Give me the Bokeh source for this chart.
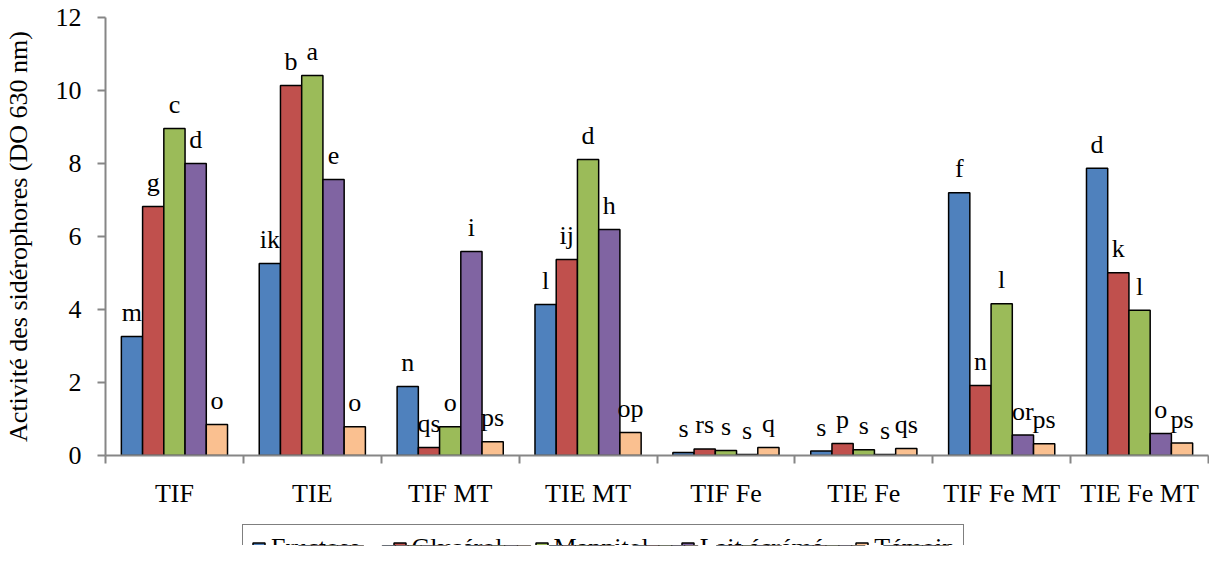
from bokeh.plotting import figure
from bokeh.layouts import column
from bokeh.models import ColumnDataSource, Range1d, FixedTicker, Legend, LegendItem
from bokeh.embed import file_html
from bokeh.resources import INLINE
from bokeh.core.properties import value

groups = ["TIF", "TIE", "TIF MT", "TIE MT", "TIF Fe", "TIE Fe", "TIF Fe MT", "TIE Fe MT"]
series = ["Fructose", "Glycérol", "Mannitol", "Lait écrémé", "Témoin"]
colors = ["#4F81BD", "#C0504D", "#9BBB59", "#8064A2", "#FAC090"]

fructose = [3.26, 5.26, 1.89, 4.14, 0.08, 0.12, 7.20, 7.87]
glycerol = [6.82, 10.14, 0.22, 5.37, 0.18, 0.33, 1.92, 5.01]
mannitol = [8.96, 10.41, 0.79, 8.11, 0.14, 0.16, 4.16, 3.98]
lait = [8.00, 7.56, 5.59, 6.19, 0.03, 0.03, 0.56, 0.60]
temoin = [0.85, 0.79, 0.38, 0.63, 0.22, 0.19, 0.32, 0.34]

let_fructose = ["m", "ik", "n", "l", "s", "s", "f", "d"]
let_glycerol = ["g", "b", "qs", "ij", "rs", "p", "n", "k"]
let_mannitol = ["c", "a", "o", "d", "s", "s", "l", "l"]
let_lait = ["d", "e", "i", "h", "s", "s", "or", "o"]
let_temoin = ["o", "o", "ps", "op", "q", "qs", "ps", "ps"]

y_ticks = [0, 2, 4, 6, 8, 10, 12]

values = [fructose, glycerol, mannitol, lait, temoin]
letters = [let_fructose, let_glycerol, let_mannitol, let_lait, let_temoin]

FONT = "'Liberation Serif', 'Times New Roman', serif"
AXIS_GRAY = "#868686"
bw = 0.154

p = figure(width=1209, height=512, output_backend="svg", toolbar_location=None,
           x_range=Range1d(0, len(groups)), y_range=Range1d(0, 12),
           min_border_left=105, min_border_right=1, min_border_top=17, min_border_bottom=57)
p.outline_line_color = None
p.xgrid.grid_line_color = None
p.ygrid.grid_line_color = None
p.background_fill_color = "white"
p.border_fill_color = "white"

sources = []
for j, (name, vals, lets, col) in enumerate(zip(series, values, letters, colors)):
    xs = [i + 0.5 + (j - 2) * bw for i in range(len(groups))]
    src = ColumnDataSource(dict(x=xs, top=vals, lab=lets))
    sources.append(src)
    p.vbar(x="x", top="top", width=bw, bottom=0, source=src,
           fill_color=col, line_color="black", line_width=1.5)
    p.text(x="x", y="top", text="lab", source=src, text_align="center",
           text_baseline="alphabetic", y_offset=-24,
           text_font=value(FONT), text_font_size="26px", text_color="black")

# x axis
xa = p.xaxis[0]
xa.ticker = FixedTicker(ticks=[i + 0.5 for i in range(len(groups))],
                        minor_ticks=list(range(len(groups) + 1)))
xa.major_label_overrides = {i + 0.5: g for i, g in enumerate(groups)}
xa.major_tick_line_color = None
xa.minor_tick_line_color = AXIS_GRAY
xa.minor_tick_line_width = 2
xa.minor_tick_out = 8
xa.minor_tick_in = 0
xa.axis_line_color = AXIS_GRAY
xa.axis_line_width = 2
xa.major_label_text_font = FONT
xa.major_label_text_font_size = "26px"
xa.major_label_text_color = "black"
xa.major_label_standoff = 15

# y axis
ya = p.yaxis[0]
ya.ticker = FixedTicker(ticks=y_ticks, minor_ticks=[])
ya.axis_line_color = AXIS_GRAY
ya.axis_line_width = 2
ya.major_tick_line_color = AXIS_GRAY
ya.major_tick_line_width = 2
ya.major_tick_out = 8
ya.major_tick_in = 0
ya.minor_tick_line_color = None
ya.major_label_text_font = FONT
ya.major_label_text_font_size = "26px"
ya.major_label_text_color = "black"
ya.major_label_standoff = 16
ya.axis_label = "Activité des sidérophores (DO 630 nm)"
ya.axis_label_text_font = FONT
ya.axis_label_text_font_size = "26px"
ya.axis_label_text_font_style = "normal"
ya.axis_label_text_color = "black"
ya.axis_label_standoff = 20

# legend strip (separate figure so the legend sits below the axis);
# its bar renderers only feed the legend and lie outside its visible range,
# tucked behind the legend box
lf = figure(width=1209, height=53, output_backend="svg", toolbar_location=None,
            x_axis_type=None, y_axis_type=None,
            x_range=Range1d(-2.2, 11), y_range=Range1d(20, 21),
            min_border_left=0, min_border_right=0, min_border_top=0, min_border_bottom=20)
lf.outline_line_color = None
lf.background_fill_color = "white"
lf.border_fill_color = "white"

items = []
for name, col, src in zip(series, colors, sources):
    r = lf.vbar(x="x", top="top", width=bw, bottom=0, source=src,
                fill_color=col, line_color="black", line_width=1.5)
    items.append(LegendItem(label=name, renderers=[r]))

legend = Legend(items=items, orientation="horizontal", location=(137, -27),
                border_line_color="black", border_line_width=1.5,
                label_text_font=FONT, label_text_font_size="26px",
                label_text_color="black", glyph_width=15, glyph_height=15,
                label_standoff=5, spacing=31, padding=8, margin=0,
                background_fill_color="white", background_fill_alpha=1.0)
lf.add_layout(legend, "center")

layout = column(p, lf, spacing=0)
open("out.html", "w").write(file_html(layout, INLINE))
